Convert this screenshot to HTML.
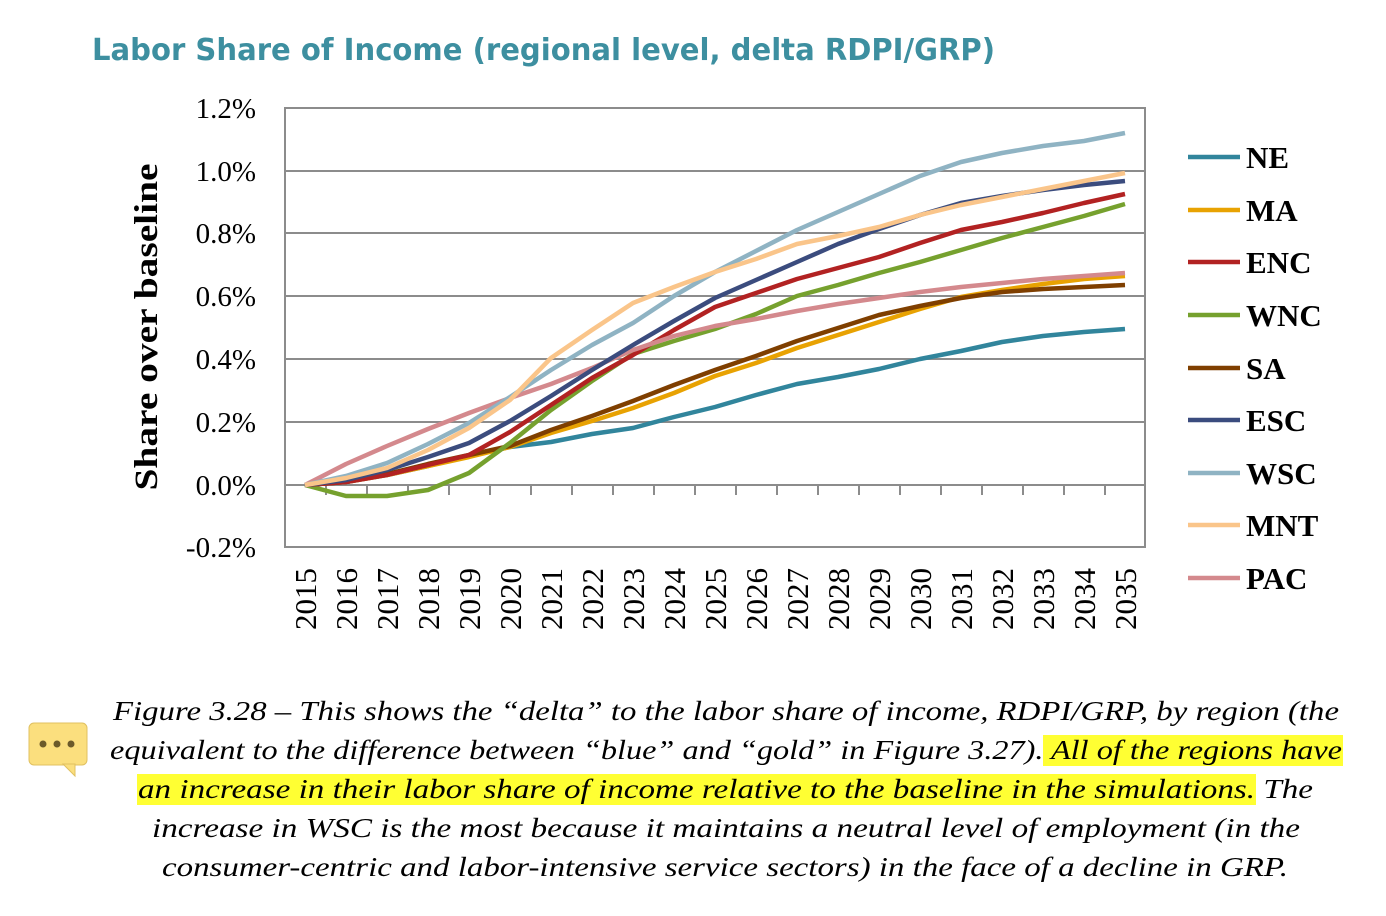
<!DOCTYPE html>
<html><head><meta charset="utf-8"><style>
body{margin:0;background:#fff;}
svg{display:block;}
</style></head><body>
<svg width="1386" height="916" viewBox="0 0 1386 916" xmlns="http://www.w3.org/2000/svg">
<text x="92" y="60" font-family="DejaVu Sans, sans-serif" font-weight="bold" font-size="30" fill="#3d8fa0" textLength="903" lengthAdjust="spacingAndGlyphs">Labor Share of Income (regional level, delta RDPI/GRP)</text>
<g stroke="#8c8c8c" stroke-width="2" fill="none">
<rect x="285" y="108" width="860" height="439"/>
<line x1="285" y1="171" x2="1145" y2="171"/>
<line x1="285" y1="233" x2="1145" y2="233"/>
<line x1="285" y1="296" x2="1145" y2="296"/>
<line x1="285" y1="359" x2="1145" y2="359"/>
<line x1="285" y1="422" x2="1145" y2="422"/>
<line x1="285" y1="485" x2="1145" y2="485"/>
<path d="M326 485v10M367 485v10M408 485v10M449 485v10M490 485v10M531 485v10M572 485v10M613 485v10M654 485v10M695 485v10M736 485v10M777 485v10M818 485v10M859 485v10M900 485v10M941 485v10M982 485v10M1023 485v10M1064 485v10M1105 485v10M1145 485v10"/>
</g>
<g font-family="Liberation Serif, serif" font-size="29" text-anchor="end" fill="#000">
<text x="256" y="118">1.2%</text><text x="256" y="181">1.0%</text><text x="256" y="243">0.8%</text><text x="256" y="306">0.6%</text><text x="256" y="369">0.4%</text><text x="256" y="432">0.2%</text><text x="256" y="495">0.0%</text><text x="256" y="557">-0.2%</text>
</g>
<text transform="translate(157,327) rotate(-90)" font-family="Liberation Serif, serif" font-weight="bold" font-size="33" text-anchor="middle" textLength="327" lengthAdjust="spacingAndGlyphs">Share over baseline</text>
<g font-family="Liberation Serif, serif" font-size="31" text-anchor="end">
<text transform="translate(316,568) rotate(-90)">2015</text><text transform="translate(357,568) rotate(-90)">2016</text><text transform="translate(398,568) rotate(-90)">2017</text><text transform="translate(439,568) rotate(-90)">2018</text><text transform="translate(480,568) rotate(-90)">2019</text><text transform="translate(521,568) rotate(-90)">2020</text><text transform="translate(562,568) rotate(-90)">2021</text><text transform="translate(603,568) rotate(-90)">2022</text><text transform="translate(644,568) rotate(-90)">2023</text><text transform="translate(685,568) rotate(-90)">2024</text><text transform="translate(726,568) rotate(-90)">2025</text><text transform="translate(767,568) rotate(-90)">2026</text><text transform="translate(808,568) rotate(-90)">2027</text><text transform="translate(849,568) rotate(-90)">2028</text><text transform="translate(890,568) rotate(-90)">2029</text><text transform="translate(931,568) rotate(-90)">2030</text><text transform="translate(972,568) rotate(-90)">2031</text><text transform="translate(1013,568) rotate(-90)">2032</text><text transform="translate(1054,568) rotate(-90)">2033</text><text transform="translate(1095,568) rotate(-90)">2034</text><text transform="translate(1136,568) rotate(-90)">2035</text>
</g>
<g fill="none" stroke-width="4.5" stroke-linejoin="round">
<polyline stroke="#31859c" points="305,485 346,482 387,475 428,466 469,456 510,447 551,442 592,434 633,428 674,417 715,407 756,395 797,384 838,377 879,369 920,359 961,351 1002,342 1043,336 1084,332 1125,329"/>
<polyline stroke="#e8a202" points="305,485 346,482 387,475 428,466 469,457 510,447 551,433 592,421 633,408 674,393 715,376 756,363 797,348 838,335 879,322 920,309 961,297 1002,290 1043,284 1084,279 1125,276"/>
<polyline stroke="#7f3f00" points="305,485 346,482 387,474 428,464 469,455 510,446 551,430 592,416 633,401 674,385 715,370 756,356 797,341 838,328 879,315 920,306 961,298 1002,292 1043,289 1084,287 1125,285"/>
<polyline stroke="#76a12e" points="305,485 346,496 387,496 428,490 469,473 510,443 551,410 592,381 633,354 674,341 715,329 756,314 797,296 838,285 879,273 920,262 961,250 1002,238 1043,227 1084,216 1125,204"/>
<polyline stroke="#b22222" points="305,485 346,482 387,475 428,465 469,455 510,432 551,405 592,378 633,355 674,330 715,307 756,293 797,279 838,268 879,257 920,243 961,230 1002,222 1043,213 1084,203 1125,194"/>
<polyline stroke="#d4898d" points="305,485 346,464 387,446 428,429 469,413 510,398 551,384 592,368 633,350 674,336 715,326 756,319 797,311 838,304 879,298 920,292 961,287 1002,283 1043,279 1084,276 1125,273"/>
<polyline stroke="#3b4c7e" points="305,485 346,480 387,470 428,457 469,443 510,421 551,396 592,370 633,345 674,321 715,298 756,280 797,262 838,244 879,229 920,215 961,203 1002,196 1043,190 1084,185 1125,181"/>
<polyline stroke="#8fb3c3" points="305,485 346,476 387,463 428,444 469,423 510,397 551,370 592,345 633,323 674,296 715,272 756,251 797,230 838,212 879,194 920,176 961,162 1002,153 1043,146 1084,141 1125,133"/>
<polyline stroke="#fac58a" points="305,485 346,478 387,468 428,450 469,428 510,400 551,358 592,330 633,303 674,287 715,272 756,259 797,244 838,236 879,227 920,215 961,205 1002,197 1043,189 1084,181 1125,173"/>
</g>
<g stroke-width="4.5">
<line x1="1188" y1="157" x2="1240" y2="157" stroke="#31859c"/>
<line x1="1188" y1="210" x2="1240" y2="210" stroke="#e8a202"/>
<line x1="1188" y1="262" x2="1240" y2="262" stroke="#b22222"/>
<line x1="1188" y1="315" x2="1240" y2="315" stroke="#76a12e"/>
<line x1="1188" y1="368" x2="1240" y2="368" stroke="#7f3f00"/>
<line x1="1188" y1="420" x2="1240" y2="420" stroke="#3b4c7e"/>
<line x1="1188" y1="473" x2="1240" y2="473" stroke="#8fb3c3"/>
<line x1="1188" y1="525" x2="1240" y2="525" stroke="#fac58a"/>
<line x1="1188" y1="578" x2="1240" y2="578" stroke="#d4898d"/>
</g>
<g font-family="Liberation Serif, serif" font-weight="bold" font-size="31">
<text x="1246" y="168">NE</text><text x="1246" y="221">MA</text><text x="1246" y="273">ENC</text><text x="1246" y="326">WNC</text><text x="1246" y="379">SA</text><text x="1246" y="431">ESC</text><text x="1246" y="484">WSC</text><text x="1246" y="536">MNT</text><text x="1246" y="589">PAC</text>
</g>
<rect x="1043" y="735" width="300" height="31" fill="#ffff33"/>
<rect x="137" y="774" width="1119" height="31" fill="#ffff33"/>
<g font-family="Liberation Serif, serif" font-style="italic" font-size="27">
<text x="113" y="720" textLength="1226" lengthAdjust="spacingAndGlyphs">Figure 3.28 – This shows the “delta” to the labor share of income, RDPI/GRP, by region (the</text>
<text x="110" y="759" textLength="1232" lengthAdjust="spacingAndGlyphs">equivalent to the difference between “blue” and “gold” in Figure 3.27). All of the regions have</text>
<text x="138" y="798" textLength="1175" lengthAdjust="spacingAndGlyphs">an increase in their labor share of income relative to the baseline in the simulations. The</text>
<text x="152" y="837" textLength="1148" lengthAdjust="spacingAndGlyphs">increase in WSC is the most because it maintains a neutral level of employment (in the</text>
<text x="162" y="876" textLength="1126" lengthAdjust="spacingAndGlyphs">consumer-centric and labor-intensive service sectors) in the face of a decline in GRP.</text>
</g>
<rect x="29" y="723" width="58" height="42" rx="5" fill="#fbdf7e" stroke="#e0c060"/>
<path d="M63 764 L75 764 L75 776 Z" fill="#fbdf7e" stroke="#e0c060"/>
<circle cx="43" cy="744" r="3.5" fill="#6b5a2a"/><circle cx="57" cy="744" r="3.5" fill="#6b5a2a"/><circle cx="71" cy="744" r="3.5" fill="#6b5a2a"/>
</svg>
</body></html>
